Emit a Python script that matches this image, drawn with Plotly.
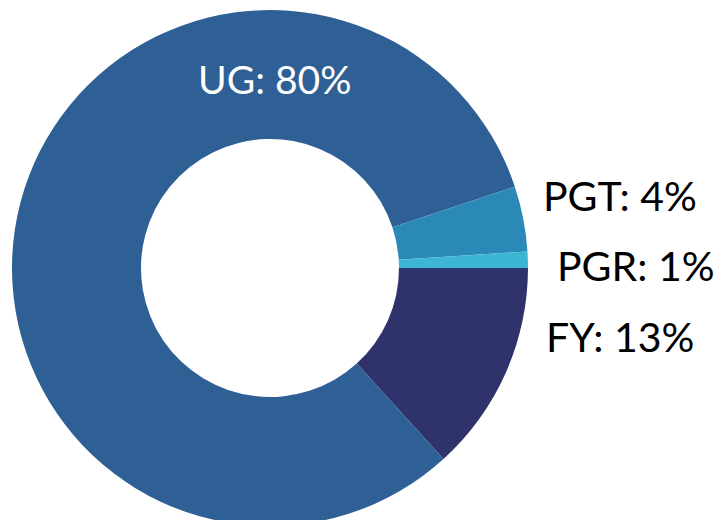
import plotly.graph_objects as go

# ---- data ----
labels = ["FY", "UG", "PGT", "PGR"]
values = [13, 80, 4, 1]

# ---- styling / layout ----
colors = ["#30336B", "#2E6096", "#2B89B7", "#3DB6D6"]
font_family = "Lato, 'Noto Sans', sans-serif"

W, H = 722, 520
T, B = 2, 2
PLOT_H = H - T - B

# label centre positions (pixels in figure space): (x, y, colour, size)
label_pos = {
    "UG": (266.5, 70.5, "white", 39),
    "PGT": (611.5, 187.5, "black", 41),
    "PGR": (627.5, 257, "black", 41),
    "FY": (611.5, 328.5, "black", 41),
}

fig = go.Figure(go.Pie(
    labels=labels,
    values=values,
    hole=0.5,
    sort=False,
    direction="clockwise",
    rotation=90,
    marker=dict(colors=colors, line=dict(width=0)),
    textposition="none",
    hoverinfo="label+value",
    showlegend=False,
    domain=dict(x=[0, 524 / W], y=[0, 1]),
))

for lab, val in zip(labels, values):
    px, py, col, size = label_pos[lab]
    fig.add_annotation(
        x=px / W, y=1 - (py - T) / PLOT_H, xref="paper", yref="paper",
        xanchor="center", yanchor="middle",
        text=f"{lab}: {val}%", showarrow=False,
        font=dict(family=font_family, size=size, color=col),
    )

fig.update_layout(
    width=W, height=H, autosize=False,
    margin=dict(l=0, r=0, t=T, b=B, autoexpand=False),
    paper_bgcolor="white", plot_bgcolor="white",
)

fig.write_html("out.html")
